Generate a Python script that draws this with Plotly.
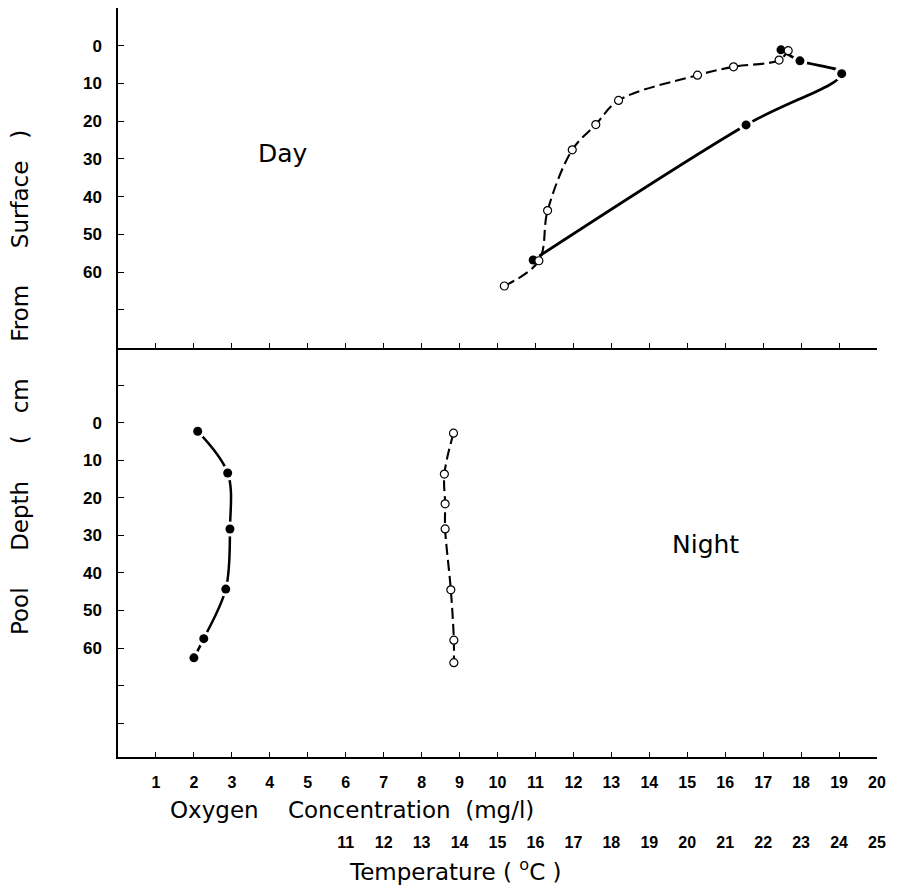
import plotly.graph_objects as go

# ---------------- data ----------------
# Day (top panel)
day_oxygen = [17.47, 17.97, 19.07, 16.55, 10.94]          # mg/l
day_oxygen_depth = [1.1, 4.0, 7.4, 21.0, 56.8]            # cm
day_temp = [15.18, 16.09, 16.32, 16.97, 17.59, 18.19, 20.27, 21.22, 22.42, 22.66]  # deg C
day_temp_depth = [63.7, 57.0, 43.7, 27.6, 20.9, 14.5, 7.8, 5.6, 3.8, 1.3]

# Night (bottom panel)
night_oxygen = [2.10, 2.89, 2.95, 2.84, 2.26, 2.00]
night_oxygen_depth = [2.3, 13.4, 28.3, 44.3, 57.5, 62.6]
night_temp = [13.84, 13.60, 13.62, 13.62, 13.77, 13.85, 13.85]
night_temp_depth = [2.8, 13.7, 21.6, 28.3, 44.5, 57.9, 63.9]

oxygen_ticks = list(range(1, 21))
temp_ticks = list(range(11, 26))
depth_ticks_top = [0, 10, 20, 30, 40, 50, 60, 70]
depth_ticks_bottom = [-10, 0, 10, 20, 30, 40, 50, 60, 70, 80]
depth_labels = {0: "0", 10: "10", 20: "20", 30: "30", 40: "40", 50: "50", 60: "60"}

# ---------------- figure ----------------
# the page body adds an 8px offset, so the figure is laid out in (page - 8) coords
OFF = 8
FIG_W, FIG_H = 900, 883
L = 118 - OFF
R = FIG_W - (877 - OFF)
T = 8 - OFF
PB = 830 - OFF                 # paper bottom (figure px)
B = FIG_H - PB
PH = PB - T                    # plot height


def py(page_y):
    """page pixel y -> paper fraction"""
    return (PB - (page_y - OFF)) / PH


def px(page_x):
    return ((page_x - OFF) - L) / (FIG_W - L - R)


TITLE_FONT = dict(family="DejaVu Sans", size=23, color="black")
LABEL_FONT = dict(family="DejaVu Sans", size=25, color="black")
TICK_FONT = dict(family="Liberation Sans", size=16, color="black", weight="bold")
YTICK_FONT = dict(family="Liberation Sans", size=17, color="black", weight="bold")

fig = go.Figure()


def add_line(x, y, xa, ya, dash, width):
    fig.add_trace(go.Scatter(x=x, y=y, xaxis=xa, yaxis=ya, mode="lines",
                             line=dict(color="black", width=width, dash=dash,
                                       shape="spline", smoothing=1.0),
                             hoverinfo="skip", showlegend=False))


def add_halo(x, y, xa, ya):
    fig.add_trace(go.Scatter(x=x, y=y, xaxis=xa, yaxis=ya, mode="markers",
                             marker=dict(size=15, color="white", line=dict(width=0)),
                             hoverinfo="skip", showlegend=False))


def add_markers(x, y, xa, ya, filled):
    if filled:
        m = dict(size=9, color="black", line=dict(width=0))
    else:
        m = dict(size=8, color="white", line=dict(color="black", width=1.2))
    fig.add_trace(go.Scatter(x=x, y=y, xaxis=xa, yaxis=ya, mode="markers",
                             marker=m, showlegend=False))


# oxygen (filled dots, solid line) on base axes
add_line(day_oxygen, day_oxygen_depth, "x", "y", "solid", 2.8)
add_halo(day_oxygen, day_oxygen_depth, "x", "y")
add_markers(day_oxygen, day_oxygen_depth, "x", "y", True)
add_line(night_oxygen, night_oxygen_depth, "x2", "y2", "solid", 2.5)
add_halo(night_oxygen, night_oxygen_depth, "x2", "y2")
add_markers(night_oxygen, night_oxygen_depth, "x2", "y2", True)
# temperature (open dots, dashed line) on overlaid temperature axes
add_line(day_temp, day_temp_depth, "x4", "y", "11px,5px", 2.1)
add_markers(day_temp, day_temp_depth, "x4", "y", False)
add_line(night_temp, night_temp_depth, "x3", "y2", "11px,5px", 2.1)
add_markers(night_temp, night_temp_depth, "x3", "y2", False)

split = py(347.5)
bottom_dom = py(757)

common_x = dict(range=[0, 20], showgrid=False, zeroline=False, showline=True,
                linecolor="black", linewidth=1.5, ticks="inside", ticklen=5,
                tickwidth=1.3, tickcolor="black", tickvals=oxygen_ticks)
common_y = dict(showgrid=False, zeroline=False, showline=True, linecolor="black",
                linewidth=1.5, ticks="inside", ticklen=6, tickwidth=1.3,
                tickcolor="black", tickfont=YTICK_FONT, ticklabelstandoff=11)

fig.update_layout(
    width=FIG_W, height=FIG_H,
    margin=dict(l=L, r=R, t=T, b=B),
    plot_bgcolor="white", paper_bgcolor="white",
    showlegend=False,
    xaxis=dict(**common_x, anchor="y", domain=[0, 1], showticklabels=False),
    xaxis2=dict(**common_x, anchor="y2", domain=[0, 1], showticklabels=True,
                tickfont=TICK_FONT, ticklabelstandoff=10),
    xaxis3=dict(range=[5, 25], overlaying="x2", anchor="free", position=0,
                side="bottom", showgrid=False, zeroline=False, showline=False,
                ticks="", tickvals=temp_ticks, tickfont=TICK_FONT,
                ticklabelstandoff=1),
    xaxis4=dict(range=[5, 25], overlaying="x", anchor="y", visible=False),
    yaxis=dict(**common_y, anchor="x", domain=[split, 1], range=[80, -10],
               tickvals=depth_ticks_top,
               ticktext=[depth_labels.get(v, "") for v in depth_ticks_top]),
    yaxis2=dict(**common_y, anchor="x2", domain=[bottom_dom, split], range=[89, -20],
                tickvals=depth_ticks_bottom,
                ticktext=[depth_labels.get(v, "") for v in depth_ticks_bottom]),
)

sp = "\u00a0"
fig.add_annotation(text=f"Pool{sp*5}Depth{sp*5}({sp*3}cm{sp*5}From{sp*5}Surface{sp*3})",
                   xref="paper", yref="paper", x=px(20), y=py(383),
                   textangle=-90, showarrow=False, font=TITLE_FONT,
                   xanchor="center", yanchor="middle")
fig.add_annotation(text=f"Oxygen{sp*4}Concentration{sp*2}(mg/l)",
                   xref="paper", yref="paper", x=px(352), y=py(810),
                   showarrow=False, font=TITLE_FONT, xanchor="center", yanchor="middle")
fig.add_annotation(text=f"Temperature{sp}({sp}<sup>o</sup>C{sp})",
                   xref="paper", yref="paper", x=px(455), y=py(870),
                   showarrow=False, font=TITLE_FONT, xanchor="center", yanchor="middle")
fig.add_annotation(text="Day", xref="x", yref="y", x=4.35, y=28.7, showarrow=False,
                   font=LABEL_FONT)
fig.add_annotation(text="Night", xref="x2", yref="y2", x=15.47, y=32.5, showarrow=False,
                   font=LABEL_FONT)

fig.write_html("out.html")
